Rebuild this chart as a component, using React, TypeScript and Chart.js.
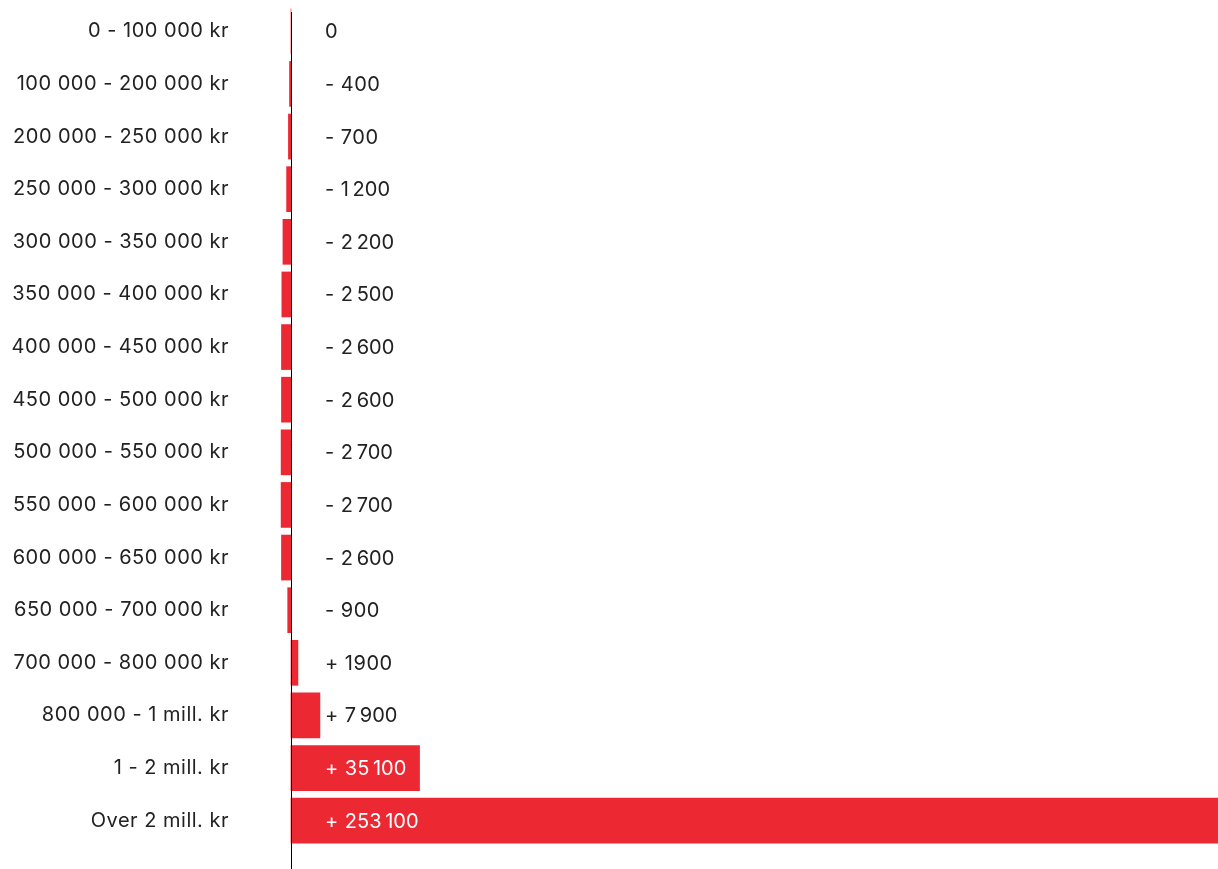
import React, { useEffect, useRef } from "react";
import { Chart, registerables } from "chart.js";

Chart.register(...registerables);

const categories = [
  "0 - 100 000 kr",
  "100 000 - 200 000 kr",
  "200 000 - 250 000 kr",
  "250 000 - 300 000 kr",
  "300 000 - 350 000 kr",
  "350 000 - 400 000 kr",
  "400 000 - 450 000 kr",
  "450 000 - 500 000 kr",
  "500 000 - 550 000 kr",
  "550 000 - 600 000 kr",
  "600 000 - 650 000 kr",
  "650 000 - 700 000 kr",
  "700 000 - 800 000 kr",
  "800 000 - 1 mill. kr",
  "1 - 2 mill. kr",
  "Over 2 mill. kr",
];

const values = [0, -400, -700, -1200, -2200, -2500, -2600, -2600, -2700, -2700, -2600, -900, 1900, 7900, 35100, 253100];

const valueLabels = [
  "0",
  "- 400",
  "- 700",
  "- 1\u202F200",
  "- 2\u202F200",
  "- 2\u202F500",
  "- 2\u202F600",
  "- 2\u202F600",
  "- 2\u202F700",
  "- 2\u202F700",
  "- 2\u202F600",
  "- 900",
  "+ 1900",
  "+ 7\u202F900",
  "+ 35\u202F100",
  "+ 253\u202F100",
];

const RED = "#EC2833";
const TEXT = "#222222";
const FONT = "Inter, 'Noto Sans', sans-serif";
const FONT_SIZE = 20;
const SPACING = "0.5px";

export default function App() {
  const ref = useRef<HTMLCanvasElement | null>(null);

  useEffect(() => {
    const canvas = ref.current;
    if (!canvas) return;

    const overlay = {
      id: "overlay",
      beforeDraw(chart: any) {
        (chart.ctx as any).letterSpacing = SPACING;
      },
      afterDatasetsDraw(chart: any) {
        const ctx = chart.ctx;
        const xs = chart.scales.x;
        const ys = chart.scales.y;
        const x0 = Math.round(xs.getPixelForValue(0)) + 0.5;
        ctx.save();
        ctx.strokeStyle = "#000";
        ctx.lineWidth = 1;
        ctx.beginPath();
        ctx.moveTo(x0, 12);
        ctx.lineTo(x0, chart.height);
        ctx.stroke();
        ctx.font = `${FONT_SIZE}px ${FONT}`;
        (ctx as any).letterSpacing = SPACING;
        ctx.textAlign = "left";
        ctx.textBaseline = "middle";
        const lx = xs.getPixelForValue(0) + 34;
        values.forEach((v, i) => {
          const y = ys.getPixelForValue(i);
          const w = ctx.measureText(valueLabels[i]).width;
          const end = xs.getPixelForValue(v);
          ctx.fillStyle = end >= lx + w - 4 ? "#ffffff" : TEXT;
          ctx.fillText(valueLabels[i], lx, y + 1);
        });
        ctx.restore();
      },
      afterDraw(chart: any) {
        (chart.ctx as any).letterSpacing = "0px";
      },
    };

    const chart = new Chart(canvas, {
      type: "bar",
      data: {
        labels: categories,
        datasets: [
          {
            data: values,
            backgroundColor: RED,
            borderWidth: 0,
            barThickness: 45,
            clip: false as any,
          },
        ],
      },
      options: {
        indexAxis: "y",
        animation: false,
        responsive: false,
        events: [],
        layout: { padding: { top: 5, bottom: 22, left: 0, right: 0 } },
        plugins: {
          legend: { display: false },
          tooltip: { enabled: false },
          title: { display: false },
        },
        scales: {
          x: {
            display: false,
            min: -3000,
            max: 253100,
          },
          y: {
            afterFit(scale: any) {
              scale.width = 280;
              scale.paddingTop = 0;
              scale.paddingBottom = 0;
            },
            grid: { display: false, drawTicks: true, tickLength: 51 },
            border: { display: false },
            ticks: {
              padding: 0,
              color: TEXT,
              font: { family: FONT, size: FONT_SIZE },
              autoSkip: false,
            },
          },
        },
      },
      plugins: [overlay],
    });

    return () => chart.destroy();
  }, []);

  return (
    <div style={{ position: "absolute", left: 0, top: 0, width: 1218, height: 869, background: "#fff" }}>
      <canvas ref={ref} width={1218} height={869} style={{ display: "block" }} />
    </div>
  );
}
